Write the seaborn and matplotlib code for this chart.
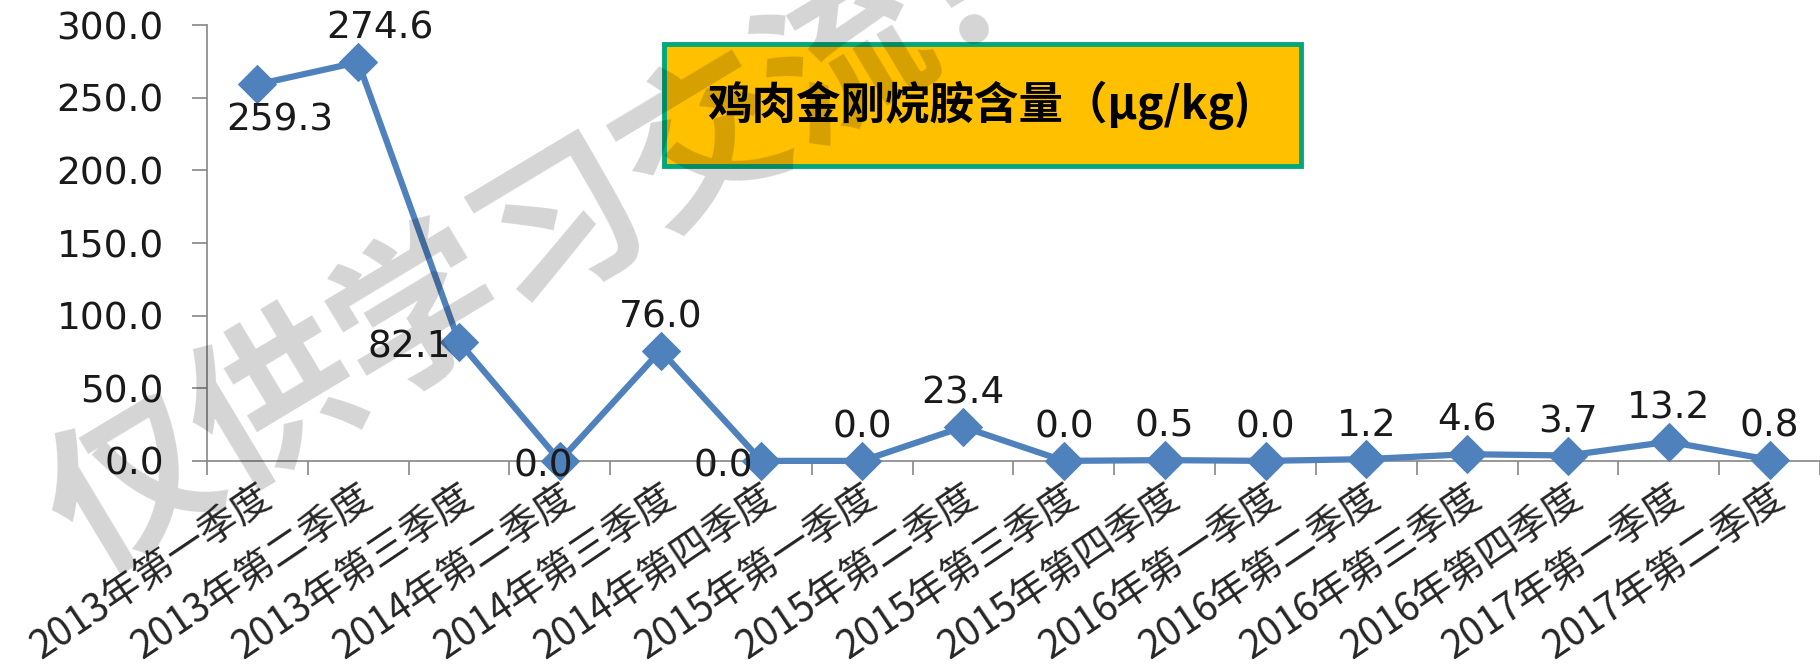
import matplotlib
matplotlib.use("Agg")
import matplotlib.pyplot as plt
import matplotlib.transforms as mtransforms
import seaborn as sns
import numpy as np
import pandas as pd
from matplotlib.patches import Rectangle
from matplotlib.ticker import FixedLocator, FormatStrFormatter

categories = ["2013年第一季度", "2013年第二季度", "2013年第三季度", "2014年第二季度",
              "2014年第三季度", "2014年第四季度", "2015年第一季度", "2015年第二季度",
              "2015年第三季度", "2015年第四季度", "2016年第一季度", "2016年第二季度",
              "2016年第三季度", "2016年第四季度", "2017年第一季度", "2017年第二季度"]
values = [259.3, 274.6, 82.1, 0.0, 76.0, 0.0, 0.0, 23.4, 0.0, 0.5, 0.0, 1.2, 4.6, 3.7, 13.2, 0.8]
label_pos = ["below", "above", "left", "center", "above", "left", "above", "above",
             "above", "above", "above", "above", "above", "above", "above", "above"]
label_dx = [16, 16, 0, 0, 0, 0, 0, 0, 0, 0, 0, 0, 0, 0, 0, 0]
title_text = "鸡肉金刚烷胺含量（μg/kg)"
watermark = "仅供学习交流！"

sns.set_theme(style="white")
plt.rcParams["font.family"] = ["DejaVu Sans", "Noto Sans CJK SC"]

line_color = "#4F81BD"
axis_color = "#868686"

df = pd.DataFrame({"idx": np.arange(len(categories)), "value": values})

fig = plt.figure(figsize=(18.2, 6.66), dpi=100)
ax = fig.add_axes([0.1137, 0.308, 0.8863, 0.654])

sns.lineplot(data=df, x="idx", y="value", ax=ax, color=line_color, linewidth=4.5,
             marker="D", markersize=19, markeredgecolor=line_color, markerfacecolor=line_color,
             clip_on=False, zorder=3)

ax.set_xlim(-0.5, len(categories) - 0.5)
ax.set_ylim(0, 300)
ax.set_yticks(np.arange(0, 301, 50))
ax.yaxis.set_major_formatter(FormatStrFormatter("%.1f"))
ax.set_xticks(np.arange(len(categories)))
ax.set_xticklabels(categories, rotation=34, ha="right", rotation_mode="anchor",
                   family=["Noto Sans CJK SC"], fontsize=28)
shift = mtransforms.ScaledTranslation(-8 / 72, 0, fig.dpi_scale_trans)
for lab in ax.get_xticklabels():
    lab.set_transform(lab.get_transform() + shift)
ax.xaxis.set_minor_locator(FixedLocator(np.arange(-0.5, len(categories), 1.0)))
ax.tick_params(axis="x", which="major", length=0, pad=12)
ax.tick_params(axis="x", which="minor", length=10, width=1.2, color=axis_color, direction="out", bottom=True)
ax.tick_params(axis="y", which="major", length=11, width=1.2, color=axis_color, direction="out",
               left=True, pad=20, labelsize=27, labelcolor="#1a1a1a")
ax.set_xlabel("")
ax.set_ylabel("")
for s in ["top", "right"]:
    ax.spines[s].set_visible(False)
for s in ["left", "bottom"]:
    ax.spines[s].set_color(axis_color)
    ax.spines[s].set_linewidth(1.2)
ax.grid(False)

for i, (v, p, dx) in enumerate(zip(values, label_pos, label_dx)):
    txt = f"{v:.1f}"
    kw = dict(fontsize=27, color="#1a1a1a", zorder=4)
    if p == "above":
        ax.annotate(txt, (i, v), xytext=(dx, 11), textcoords="offset points", ha="center", va="bottom", **kw)
    elif p == "below":
        ax.annotate(txt, (i, v), xytext=(dx, -13), textcoords="offset points", ha="center", va="top", **kw)
    elif p == "left":
        ax.annotate(txt, (i, v), xytext=(-6, -4), textcoords="offset points", ha="right", va="center", **kw)
    else:
        ax.annotate(txt, (i, v), xytext=(-12, -4), textcoords="offset points", ha="center", va="center", **kw)

# title box
box = Rectangle((0.365, 0.751), 0.350, 0.183, transform=fig.transFigure, facecolor="#FFC000",
                edgecolor="#00A77A", linewidth=3.5, zorder=10)
fig.patches.append(box)
fig.text(0.538, 0.8425, title_text, ha="center", va="center", fontsize=32, fontweight="bold",
         family=["Noto Sans CJK SC", "DejaVu Serif"], color="black", zorder=11)

# watermark
fig.text(0.310, 0.650, watermark, ha="center", va="center", rotation=31, fontsize=120,
         fontweight="bold", family=["Noto Sans CJK SC"], color="black", alpha=0.17, zorder=20)

fig.savefig("out.png", dpi=100)
